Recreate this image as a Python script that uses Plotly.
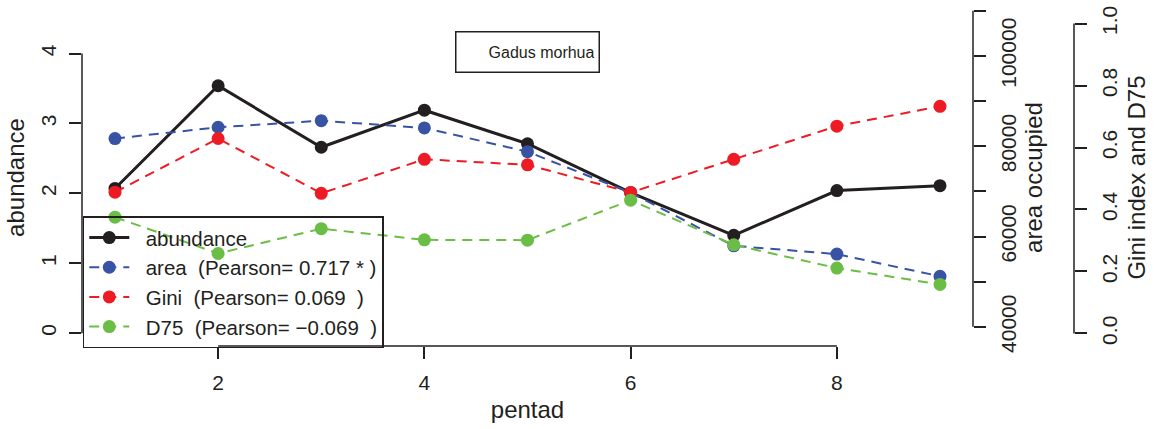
import plotly.graph_objects as go

pentad = [1, 2, 3, 4, 5, 6, 7, 8, 9]
abundance = [2.07, 3.54, 2.66, 3.19, 2.71, 2.01, 1.40, 2.04, 2.11]
area = [81690, 84200, 85640, 84040, 78780, 69700, 57950, 56110, 51190]
gini = [0.456, 0.629, 0.452, 0.562, 0.544, 0.455, 0.562, 0.669, 0.733]
d75 = [0.375, 0.258, 0.338, 0.302, 0.301, 0.430, 0.286, 0.211, 0.158]

x_ticks = [2, 4, 6, 8]
ab_ticks = [0, 1, 2, 3, 4]
area_ticks = [40000, 50000, 60000, 70000, 80000, 90000, 100000, 110000]
area_labels = ["40000", "", "60000", "", "80000", "", "100000", ""]
gini_ticks = [0, 0.2, 0.4, 0.6, 0.8, 1.0]
gini_labels = ["0.0", "0.2", "0.4", "0.6", "0.8", "1.0"]

NB = "\u00a0"
names = [
    "abundance",
    "area" + NB * 2 + "(Pearson= 0.717 * )",
    "Gini" + NB * 2 + "(Pearson= 0.069" + NB * 2 + ")",
    "D75" + NB * 2 + "(Pearson= \u22120.069" + NB * 2 + ")",
]
names = [NB * 2 + n for n in names]

INK = "#231f20"
BLUE = "#3953a4"
RED = "#ed1c24"
GREEN = "#6abd45"
FONT = "Liberation Sans, Arial, sans-serif"

fig = go.Figure()
fig.add_trace(go.Scatter(x=pentad, y=abundance, name=names[0], mode="lines+markers",
                         line=dict(color=INK, width=3), marker=dict(color=INK, size=13),
                         yaxis="y"))
fig.add_trace(go.Scatter(x=pentad, y=area, name=names[1], mode="lines+markers",
                         line=dict(color=BLUE, width=2, dash="10px,7px"),
                         marker=dict(color=BLUE, size=13), yaxis="y2"))
fig.add_trace(go.Scatter(x=pentad, y=gini, name=names[2], mode="lines+markers",
                         line=dict(color=RED, width=2, dash="10px,7px"),
                         marker=dict(color=RED, size=13), yaxis="y3"))
fig.add_trace(go.Scatter(x=pentad, y=d75, name=names[3], mode="lines+markers",
                         line=dict(color=GREEN, width=2, dash="10px,7px"),
                         marker=dict(color=GREEN, size=13), yaxis="y3"))

xdom_end = 891 / 992

axis_common = dict(showgrid=False, zeroline=False, showline=False, ticks="outside",
                   ticklen=12, tickwidth=1.5, tickcolor=INK,
                   tickfont=dict(family=FONT, size=21, color=INK))
title_font = dict(size=24, family=FONT, color=INK)

fig.update_layout(
    width=1154, height=429,
    margin=dict(l=82, r=80, t=6, b=83),
    paper_bgcolor="white", plot_bgcolor="white",
    font=dict(family=FONT, color=INK),
    xaxis=dict(domain=[0, xdom_end], range=[0.68, 9.32], tickvals=x_ticks,
               title=dict(text="pentad", font=title_font, standoff=7),
               ticklabelstandoff=6, **axis_common),
    yaxis=dict(range=[-0.184, 4.638], tickvals=ab_ticks, tickangle=-90,
               title=dict(text="abundance", font=title_font, standoff=5),
               ticklabelstandoff=5, **axis_common),
    yaxis2=dict(overlaying="y", side="right", anchor="free", position=xdom_end,
                range=[35765, 110375], tickvals=area_ticks, ticktext=area_labels, tickangle=-90,
                title=dict(text="area occupied", font=title_font, standoff=2),
                ticklabelstandoff=5, **axis_common),
    yaxis3=dict(overlaying="y", side="right", anchor="free", position=1.0,
                range=[-0.0406, 1.047], tickvals=gini_ticks, ticktext=gini_labels, tickangle=-90,
                title=dict(text="Gini index and D75", font=title_font, standoff=7),
                ticklabelstandoff=5, **axis_common),
    legend=dict(x=0.0008, y=0.385, xanchor="left", yanchor="top",
                bgcolor="rgba(0,0,0,0)", bordercolor=INK, borderwidth=1.5,
                font=dict(family=FONT, size=20.5, color=INK), itemwidth=40,
                tracegroupgap=0),
    showlegend=True,
    shapes=[
        dict(type="line", xref="x", yref="paper", x0=x_ticks[0], x1=x_ticks[-1], y0=0, y1=0,
             line=dict(color=INK, width=1.5)),
        dict(type="line", xref="paper", yref="y", x0=0, x1=0, y0=ab_ticks[0], y1=ab_ticks[-1],
             line=dict(color=INK, width=1.5)),
        dict(type="line", xref="paper", yref="y2", x0=xdom_end, x1=xdom_end,
             y0=area_ticks[0], y1=area_ticks[-1], line=dict(color=INK, width=1.5)),
        dict(type="line", xref="paper", yref="y3", x0=1, x1=1,
             y0=gini_ticks[0], y1=gini_ticks[-1], line=dict(color=INK, width=1.5)),
    ],
    annotations=[
        dict(text="Gadus morhua", xref="x", yref="paper", x=5.0, y=0.934,
             showarrow=False, align="right", width=134, height=31, borderpad=4,
             bordercolor=INK, borderwidth=1.5, bgcolor="white",
             font=dict(family=FONT, size=16, color=INK)),
    ],
)

fig.write_html("out.html")
